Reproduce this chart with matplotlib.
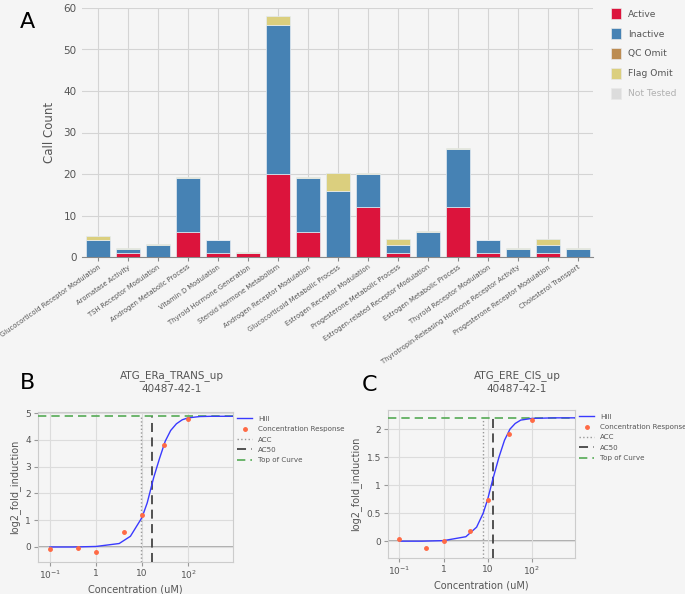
import numpy as np
import matplotlib
matplotlib.use("Agg")
import matplotlib.pyplot as plt
from matplotlib.patches import Patch

plt.rcParams['font.family'] = ['DejaVu Sans']

# ---- panel A data
categories = ["Glucocorticoid Receptor Modulation", "Aromatase Activity", "TSH Receptor Modulation",
              "Androgen Metabolic Process", "Vitamin D Modulation", "Thyroid Hormone Generation",
              "Steroid Hormone Metabolism", "Androgen Receptor Modulation", "Glucocorticoid Metabolic Process",
              "Estrogen Receptor Modulation", "Progesterone Metabolic Process",
              "Estrogen-related Receptor Modulation", "Estrogen Metabolic Process",
              "Thyroid Receptor Modulation", "Thyrotropin-Releasing Hormone Receptor Activity",
              "Progesterone Receptor Modulation", "Cholesterol Transport"]
active = [0, 1, 0, 6, 1, 1, 20, 6, 0, 12, 1, 0, 12, 1, 0, 1, 0]
inactive = [4, 1, 3, 13, 3, 0, 36, 13, 16, 8, 2, 6, 14, 3, 2, 2, 2]
qc_omit = [0] * 17
flag_omit = [1.1, 0.2, 0.2, 0.2, 0.2, 0.2, 2.1, 0.2, 4.2, 0.2, 1.3, 0.2, 0.2, 0.2, 0.2, 1.3, 0.2]

# ---- panel B data
b_conc = [0.1, 0.4, 1, 4, 10, 30, 100]
b_resp = [-0.07, -0.03, -0.18, 0.55, 1.18, 3.8, 4.77]
b_hill_x = [0.1, 0.32, 1, 3.2, 5.6, 10, 13, 18, 24, 32, 42, 56, 75, 100, 180, 320, 1000]
b_hill_y = [0.0, 0.0, 0.02, 0.13, 0.4, 1.1, 1.65, 2.6, 3.3, 3.95, 4.35, 4.6, 4.75, 4.82, 4.87, 4.88, 4.88]
b_acc, b_ac50, b_top = 9.5, 16.3, 4.88

# ---- panel C data
c_conc = [0.1, 0.4, 1, 4, 10, 30, 100]
c_resp = [0.04, -0.12, 0.01, 0.18, 0.73, 1.92, 2.17]
c_hill_x = [0.1, 0.32, 1, 3.2, 5.6, 7.9, 10, 13, 18, 24, 32, 42, 56, 100, 320, 1000]
c_hill_y = [0.0, 0.0, 0.01, 0.08, 0.25, 0.5, 0.75, 1.1, 1.5, 1.8, 2.0, 2.1, 2.16, 2.19, 2.2, 2.2]
c_acc, c_ac50, c_top = 7.9, 13.2, 2.2

BG = '#f5f5f5'
TXT = '#555555'
colors = {'Active': '#dc143c', 'Inactive': '#4682b4', 'QC Omit': '#bc8c52',
          'Flag Omit': '#dbcf7e', 'Not Tested': '#dcdcdc'}

fig = plt.figure(figsize=(6.85, 5.94), dpi=100, facecolor=BG)

# ================= A
ax = fig.add_axes([82/685, 1-257/594, (593-82)/685, (257-8)/594])
ax.set_facecolor(BG)
x = np.arange(len(categories))
bottom = np.zeros(len(categories))
for name, vals in [('Active', active), ('Inactive', inactive), ('QC Omit', qc_omit), ('Flag Omit', flag_omit)]:
    vals = np.array(vals, dtype=float)
    ax.bar(x, vals, bottom=bottom, width=0.83, color=colors[name], edgecolor='#e4ebf1', linewidth=0.5, zorder=3)
    bottom += vals
ax.set_xlim(-0.533, 16.5)
ax.set_ylim(0, 60)
ax.set_yticks(range(0, 61, 10))
ax.set_xticks(x)
ax.set_xticklabels(categories, rotation=35, ha='right', rotation_mode='anchor', fontsize=4.9, color=TXT)
ax.tick_params(axis='y', labelsize=7.5, colors=TXT, length=0, pad=4)
ax.tick_params(axis='x', length=3, color='#888888', pad=2)
ax.grid(True, color='#d4d4d4', linewidth=0.8, zorder=0)
for s in ['top', 'right', 'left']:
    ax.spines[s].set_visible(False)
ax.spines['bottom'].set_color('#888888')
ax.set_ylabel('Call Count', fontsize=8.5, color=TXT, labelpad=5)

handles = [Patch(facecolor=colors[k], edgecolor='#e8e8e8', linewidth=0.5) for k in colors]
leg = fig.legend(handles, list(colors.keys()), loc='upper left', bbox_to_anchor=(611/685, 1-8/594),
                 frameon=False, fontsize=6.6, handlelength=1.1, handleheight=1.5, labelspacing=0.95,
                 handletextpad=0.8, borderaxespad=0, borderpad=0)
for t in leg.get_texts():
    t.set_color(TXT)
leg.get_texts()[-1].set_color('#b0b0b0')

fig.text(20/685, 1-22/594, 'A', fontsize=16, ha='left', va='center')


# ================= B / C
def curve_panel(rect, conc, resp, hx, hy, acc, ac50, top, ylim, yticks, yticklabels, title, tx):
    a = fig.add_axes(rect)
    a.set_facecolor(BG)
    a.set_xscale('log')
    a.set_xlim(0.055, 950)
    a.set_ylim(*ylim)
    a.grid(True, color='#dcdcdc', linewidth=0.8, zorder=0)
    a.minorticks_off()
    a.axhline(0, color='#9a9a9a', linewidth=1.1, zorder=1)
    frac = (top - ylim[0]) / (ylim[1] - ylim[0])
    l1, = a.plot(hx, hy, color='#3a3aff', linewidth=1.0, zorder=4, label='Hill')
    l2, = a.plot(conc, resp, 'o', color='#ff6a45', markersize=2.5, linestyle='none', zorder=5,
                 label='Concentration Response')
    l3 = a.axvline(acc, ymin=0, ymax=frac, color='#999999', linestyle=':', linewidth=1.0, zorder=3, label='ACC')
    l4 = a.axvline(ac50, ymin=0, ymax=frac, color='#444444', linestyle=(0, (5, 3)), linewidth=1.3,
                   zorder=3, label='AC50')
    l5 = a.axhline(top, color='#55aa55', linestyle=(0, (5, 3)), linewidth=1.2, zorder=3, label='Top of Curve')
    a.set_xticks([0.1, 1, 10, 100])
    a.set_xticklabels(['$10^{-1}$', '1', '10', '$10^{2}$'])
    a.set_yticks(yticks)
    a.set_yticklabels(yticklabels)
    a.tick_params(axis='both', labelsize=6.5, colors=TXT, length=3, color='#999999', pad=2)
    for s in a.spines.values():
        s.set_color('#cccccc')
        s.set_linewidth(0.8)
    a.set_xlabel('Concentration (uM)', fontsize=7, color=TXT, labelpad=2)
    a.set_ylabel('log2_fold_induction', fontsize=7, color=TXT, labelpad=4)
    lg = a.legend(handles=[l1, l2, l3, l4, l5], loc='upper left', bbox_to_anchor=(1.02, 0.975),
                  frameon=False, fontsize=5.1, handlelength=2.2, labelspacing=0.62, handletextpad=0.8,
                  borderaxespad=0, borderpad=0)
    for t in lg.get_texts():
        t.set_color(TXT)
    fig.text(tx, 1-382/594, title, fontsize=7.5, color=TXT, ha='center', va='center', linespacing=1.3)
    return a


curve_panel([38/685, 1-562/594, (233-38)/685, (562-412)/594], b_conc, b_resp, b_hill_x, b_hill_y,
            b_acc, b_ac50, b_top, (-0.56, 5.04), [0, 1, 2, 3, 4, 5], ['0', '1', '2', '3', '4', '5'],
            'ATG_ERa_TRANS_up\n40487-42-1', 172/685)
curve_panel([388/685, 1-558/594, (575-388)/685, (558-410)/594], c_conc, c_resp, c_hill_x, c_hill_y,
            c_acc, c_ac50, c_top, (-0.3, 2.34), [0, 0.5, 1, 1.5, 2], ['0', '0.5', '1', '1.5', '2'],
            'ATG_ERE_CIS_up\n40487-42-1', 517/685)

fig.text(20/685, 1-383/594, 'B', fontsize=16, ha='left', va='center')
fig.text(362/685, 1-385/594, 'C', fontsize=16, ha='left', va='center')

fig.savefig('out.png', dpi=100, facecolor=BG)
